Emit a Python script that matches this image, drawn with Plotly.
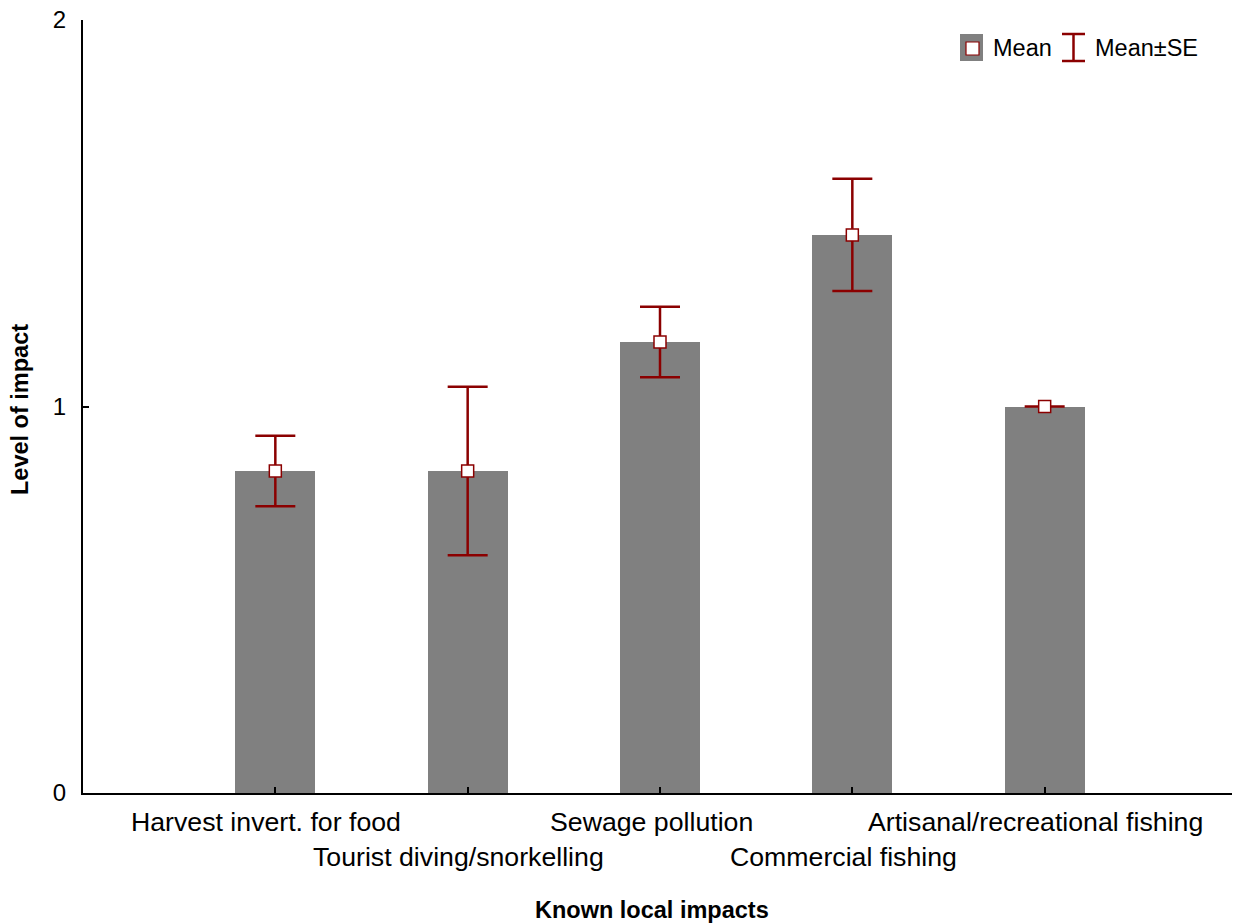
import plotly.graph_objects as go

categories = ["Harvest invert. for food", "Tourist diving/snorkelling", "Sewage pollution",
              "Commercial fishing", "Artisanal/recreational fishing"]
means = [0.833, 0.833, 1.167, 1.444, 1.0]
se = [0.091, 0.218, 0.091, 0.145, 0.0]
y_ticks = [0, 1, 2]

# page body has an 8px margin: figure sized and placed so the plot lands where the reference has it
OFF = 8
W, H = 1240 - OFF, 924 - OFF
L, R, T, B = 83 - OFF, 3, 20 - OFF, 924 - 793
PW, PH = W - L - R, H - T - B
DARKRED = "#8B0000"
GRAY = "#808080"
FONT = "Liberation Sans, Arial, sans-serif"

xpos = list(range(len(categories)))

fig = go.Figure()
fig.add_trace(go.Bar(x=xpos, y=means, width=0.416, marker=dict(color=GRAY, line=dict(width=0)),
                     showlegend=False, hoverinfo="skip"))
fig.add_trace(go.Scatter(x=xpos, y=means, mode="markers",
                         marker=dict(symbol="square", size=12, color="white",
                                     line=dict(color=DARKRED, width=1.5)),
                         error_y=dict(type="data", array=se, visible=True, color=DARKRED,
                                      thickness=2.5, width=20),
                         showlegend=False))


def px(x):
    return (x - OFF - L) / PW


def py(y):
    return (H - B - (y - OFF)) / PH


shapes = [
    dict(type="rect", xref="paper", yref="paper", x0=px(960), x1=px(983), y0=py(61), y1=py(34),
         fillcolor=GRAY, line=dict(width=0)),
    dict(type="rect", xref="paper", yref="paper", x0=px(966), x1=px(979), y0=py(55), y1=py(42),
         fillcolor="white", line=dict(color=DARKRED, width=1.2)),
    dict(type="line", xref="paper", yref="paper", x0=px(1073.5), x1=px(1073.5), y0=py(61), y1=py(34),
         line=dict(color=DARKRED, width=2.5)),
    dict(type="line", xref="paper", yref="paper", x0=px(1062), x1=px(1085), y0=py(34), y1=py(34),
         line=dict(color=DARKRED, width=2.5)),
    dict(type="line", xref="paper", yref="paper", x0=px(1062), x1=px(1085), y0=py(61), y1=py(61),
         line=dict(color=DARKRED, width=2.5)),
]
annotations = [
    dict(xref="paper", yref="paper", x=px(991), y=py(47.5), text="Mean", showarrow=False,
         xanchor="left", yanchor="middle", font=dict(size=23.5, color="black", family=FONT)),
    dict(xref="paper", yref="paper", x=px(1093), y=py(47.5), text="Mean±SE", showarrow=False,
         xanchor="left", yanchor="middle", font=dict(size=23.5, color="black", family=FONT)),
    dict(xref="paper", yref="paper", x=px(652), y=py(910), text="<b>Known local impacts</b>",
         showarrow=False, xanchor="center", yanchor="middle",
         font=dict(size=23.5, color="black", family=FONT)),
    dict(xref="paper", yref="paper", x=px(20), y=py(410), text="<b>Level of impact</b>",
         showarrow=False, xanchor="center", yanchor="middle", textangle=-90,
         font=dict(size=23.5, color="black", family=FONT)),
]
for i, c in enumerate(categories):
    annotations.append(dict(xref="x", yref="paper", x=i, y=0, text=c, showarrow=False,
                            xanchor="center", yanchor="middle", xshift=-9,
                            yshift=-29 if i % 2 == 0 else -64,
                            font=dict(size=26.7, color="black", family=FONT)))

fig.update_layout(
    width=W, height=H,
    margin=dict(l=L, r=R, t=T, b=B, autoexpand=False),
    paper_bgcolor="white", plot_bgcolor="white",
    font=dict(family=FONT, size=24, color="black"),
    shapes=shapes, annotations=annotations,
    bargap=0,
    xaxis=dict(range=[-1, 5], tickmode="array", tickvals=xpos + [5], showticklabels=False,
               ticks="inside", ticklen=6, tickwidth=2, tickcolor="black", automargin=False,
               showline=True, linecolor="black", linewidth=2, showgrid=False, zeroline=False),
    yaxis=dict(range=[0, 2], tickmode="array", tickvals=y_ticks, ticks="inside", ticklen=6,
               tickwidth=2, tickcolor="black", showline=True, linecolor="black", linewidth=2,
               showgrid=False, zeroline=False, tickfont=dict(size=24), automargin=False,
               ticklabelstandoff=10, ticklabeloverflow="allow"),
)

fig.write_html("out.html")
